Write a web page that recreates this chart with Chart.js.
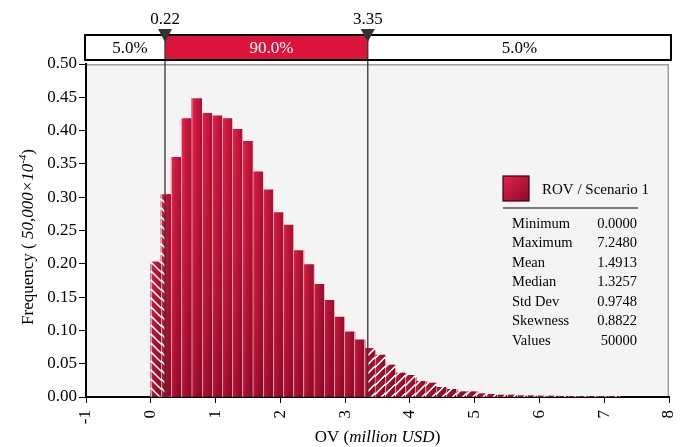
<!DOCTYPE html>
<html>
<head>
<meta charset="utf-8">
<script src="https://cdn.jsdelivr.net/npm/chart.js@4/dist/chart.umd.min.js"></script>
<style>
html,body{margin:0;padding:0;background:#fff;}
canvas{display:block;}
</style>
</head>
<body>
<canvas id="c" width="690" height="447"></canvas>
<script>
// ---------- data ----------
const binCenters = [0.079, 0.236, 0.394, 0.551, 0.709, 0.867, 1.024, 1.182, 1.339, 1.497,
  1.654, 1.812, 1.970, 2.127, 2.285, 2.442, 2.600, 2.757, 2.915, 3.073,
  3.230, 3.388, 3.545, 3.703, 3.860, 4.018, 4.175, 4.333, 4.491, 4.648,
  4.806, 4.963, 5.121, 5.278, 5.436, 5.594, 5.751, 5.909, 6.066, 6.224,
  6.381, 6.539, 6.697, 6.854, 7.012, 7.169];
const frequencies = [0.203, 0.304, 0.360, 0.418, 0.448, 0.426, 0.422, 0.418, 0.402, 0.384,
  0.338, 0.311, 0.277, 0.258, 0.220, 0.199, 0.169, 0.145, 0.120, 0.098,
  0.086, 0.073, 0.063, 0.048, 0.036, 0.0325, 0.0235, 0.021, 0.0145, 0.0115,
  0.008, 0.008, 0.005, 0.004, 0.003, 0.003, 0.002, 0.002, 0.0015, 0.0015,
  0.001, 0.001, 0.001, 0.001, 0.0008, 0.0005];
const cutoffs = [0.22, 3.35];
const cutoffLabels = ['0.22', '3.35'];
const bandShares = ['5.0%', '90.0%', '5.0%'];
const seriesName = 'ROV / Scenario 1';
const statNames = ['Minimum', 'Maximum', 'Mean', 'Median', 'Std Dev', 'Skewness', 'Values'];
const statValues = ['0.0000', '7.2480', '1.4913', '1.3257', '0.9748', '0.8822', '50000'];
const xRange = [-1, 8];
const yRange = [0, 0.5];
const xTitleParts = [['OV (', false], ['million USD', true], [')', false]];
const yTitleParts = [['Frequency ( ', false, false], ['50,000\u00D710', true, false], ['-4', true, true], [')', false, false]];

// ---------- helpers ----------
const FONT = "'Liberation Serif', 'Times New Roman', serif";
const CRIMSON = '#dc143c';
const halfGap = (binCenters[1] - binCenters[0]) / 2;

const coreData = binCenters.map((x, i) => ({
  x, y: (x + halfGap > cutoffs[0] && x - halfGap < cutoffs[1]) ? frequencies[i] : null }));
const tailData = binCenters.map((x, i) => ({
  x, y: (x - halfGap < cutoffs[0] || x + halfGap > cutoffs[1]) ? frequencies[i] : null }));

const patternCache = {};
function barFill(chart, kind) {
  const a = chart.chartArea, xs = chart.scales && chart.scales.x;
  if (!a || !xs || !isFinite(a.top)) return '#c8123a';
  const p0 = xs.getPixelForValue(binCenters[0]);
  const p1 = xs.getPixelForValue(binCenters[1]);
  const binPx = p1 - p0;
  if (!(binPx > 0)) return '#c8123a';
  const x0 = p0 - binPx / 2;
  const key = [kind, binPx.toFixed(3), x0.toFixed(2), a.top, a.bottom].join('|');
  if (patternCache[key]) return patternCache[key];
  const TW = 64, H = Math.ceil(a.bottom - a.top) + 4;
  const c = document.createElement('canvas');
  c.width = TW; c.height = H;
  const g = c.getContext('2d');
  const s = TW / binPx;
  const lg = g.createLinearGradient(0, 0, TW, 0);
  lg.addColorStop(0, '#e62b52');
  lg.addColorStop(0.3, '#d6173f');
  lg.addColorStop(1, '#a30d2e');
  g.fillStyle = lg; g.fillRect(0, 0, TW, H);
  const vg = g.createLinearGradient(0, 0, 0, H);
  vg.addColorStop(0, 'rgba(255,70,100,0.10)');
  vg.addColorStop(1, 'rgba(50,0,10,0.28)');
  g.fillStyle = vg; g.fillRect(0, 0, TW, H);
  g.fillStyle = 'rgba(255,185,200,0.75)';
  g.fillRect(0, 0, s * 1, H);
  if (kind !== 'solid') {
    g.save();
    g.scale(s, 1);
    g.strokeStyle = '#ffffff';
    g.lineWidth = 1.5;
    const P = 9;
    g.beginPath();
    for (let v = -binPx - 2 * P; v < H + binPx + 2 * P; v += P) {
      if (kind === 'left') { g.moveTo(-1, v); g.lineTo(binPx + 1, v + binPx + 2); }
      else { g.moveTo(-1, v); g.lineTo(binPx + 1, v - binPx - 2); }
    }
    g.stroke();
    g.restore();
  }
  const pat = chart.ctx.createPattern(c, 'repeat');
  pat.setTransform(new DOMMatrix([1 / s, 0, 0, 1, x0, a.top]));
  patternCache[key] = pat;
  return pat;
}

function drawParts(ctx, parts, size, cx, cy) {
  // parts: [text, italic, superscript]
  const fontOf = (it, sup) => (it ? 'italic ' : '') + (sup ? Math.round(size * 0.62) : size) + 'px ' + FONT;
  let total = 0;
  const widths = parts.map(p => { ctx.font = fontOf(p[1], p[2]); const w = ctx.measureText(p[0]).width; total += w; return w; });
  let x = cx - total / 2;
  ctx.textAlign = 'left';
  ctx.textBaseline = 'alphabetic';
  parts.forEach((p, i) => {
    ctx.font = fontOf(p[1], p[2]);
    ctx.fillText(p[0], x, cy + (p[2] ? -size * 0.42 : 0));
    x += widths[i];
  });
}

const decorPlugin = {
  id: 'decor',
  beforeDraw(chart) {
    const { ctx, chartArea: a } = chart;
    ctx.save();
    ctx.fillStyle = '#ffffff';
    ctx.fillRect(0, 0, chart.width, chart.height);
    ctx.fillStyle = '#f4f4f4';
    ctx.fillRect(a.left, a.top, a.right - a.left, a.bottom - a.top);
    ctx.strokeStyle = '#a0a0a0';
    ctx.lineWidth = 1.5;
    ctx.beginPath();
    ctx.moveTo(a.left, a.top + 0.75);
    ctx.lineTo(a.right - 0.75, a.top + 0.75);
    ctx.lineTo(a.right - 0.75, a.bottom);
    ctx.stroke();
    ctx.restore();
  },
  beforeDatasetDraw(chart, args) {
    if (chart.data.datasets[args.index].label !== 'core') return;
    const { ctx, chartArea: a, scales: { x } } = chart;
    const l = x.getPixelForValue(cutoffs[0]), r = x.getPixelForValue(cutoffs[1]);
    ctx.save();
    ctx.beginPath();
    ctx.rect(l, a.top, r - l, a.bottom - a.top);
    ctx.clip();
  },
  afterDatasetDraw(chart, args) {
    if (chart.data.datasets[args.index].label !== 'core') return;
    chart.ctx.restore();
  },
  afterDraw(chart) {
    const { ctx, chartArea: a, scales: { x } } = chart;
    const cx = cutoffs.map(v => x.getPixelForValue(v));
    const bandTop = 35, bandBot = 60;
    ctx.save();
    // cutoff lines
    ctx.strokeStyle = '#333333';
    ctx.lineWidth = 1.3;
    cx.forEach(px => {
      ctx.beginPath(); ctx.moveTo(px, bandBot); ctx.lineTo(px, a.bottom); ctx.stroke();
    });
    // band
    const bl = a.left - 1, br = a.right + 2;
    ctx.fillStyle = '#ffffff';
    ctx.fillRect(bl, bandTop, br - bl, bandBot - bandTop);
    ctx.fillStyle = CRIMSON;
    ctx.fillRect(cx[0], bandTop, cx[1] - cx[0], bandBot - bandTop);
    ctx.strokeStyle = '#333333'; ctx.lineWidth = 1.3;
    cx.forEach(px => { ctx.beginPath(); ctx.moveTo(px, bandTop); ctx.lineTo(px, bandBot); ctx.stroke(); });
    ctx.strokeStyle = '#000000'; ctx.lineWidth = 2;
    ctx.strokeRect(bl, bandTop, br - bl, bandBot - bandTop);
    const segs = [[bl, cx[0]], [cx[0], cx[1]], [cx[1], br]];
    ctx.font = '17px ' + FONT;
    ctx.textAlign = 'center';
    ctx.textBaseline = 'middle';
    segs.forEach((sg, i) => {
      ctx.fillStyle = i === 1 ? '#ffffff' : '#000000';
      ctx.fillText(bandShares[i], (sg[0] + sg[1]) / 2 + (i < 2 ? 5 : 0), (bandTop + bandBot) / 2 + 1);
    });
    // triangles and labels
    cx.forEach((px, i) => {
      ctx.fillStyle = '#333333';
      ctx.beginPath();
      ctx.moveTo(px - 7, 29); ctx.lineTo(px + 7, 29); ctx.lineTo(px, 42); ctx.closePath();
      ctx.fill();
      ctx.fillStyle = '#000000';
      ctx.font = '17px ' + FONT;
      ctx.textAlign = 'center';
      ctx.textBaseline = 'alphabetic';
      ctx.fillText(cutoffLabels[i], px, 24);
    });
    // legend box
    const lx = a.right - 166, ly = a.top + 112;
    const sq = ctx.createLinearGradient(lx, ly, lx + 26, ly + 25);
    sq.addColorStop(0, '#e3244a'); sq.addColorStop(1, '#8e0a27');
    ctx.fillStyle = sq;
    ctx.fillRect(lx, ly, 26, 25);
    ctx.strokeStyle = '#3a0010'; ctx.lineWidth = 1.2;
    ctx.strokeRect(lx, ly, 26, 25);
    ctx.fillStyle = '#000000';
    ctx.font = '15px ' + FONT;
    ctx.textAlign = 'left'; ctx.textBaseline = 'middle';
    ctx.fillText(seriesName, lx + 39, ly + 14);
    ctx.strokeStyle = '#7a7a7a'; ctx.lineWidth = 2;
    ctx.beginPath(); ctx.moveTo(lx, ly + 32); ctx.lineTo(lx + 135, ly + 32); ctx.stroke();
    ctx.font = '14.5px ' + FONT;
    statNames.forEach((nm, i) => {
      const yy = ly + 48 + i * 19.5;
      ctx.textAlign = 'left';
      ctx.fillText(nm, lx + 9, yy);
      ctx.textAlign = 'right';
      ctx.fillText(statValues[i], lx + 134, yy);
    });
    // axis titles
    ctx.fillStyle = '#000000';
    drawParts(ctx, xTitleParts.map(p => [p[0], p[1], false]), 17, (a.left + a.right) / 2, 442);
    ctx.save();
    ctx.translate(33, 237);
    ctx.rotate(-Math.PI / 2);
    drawParts(ctx, yTitleParts, 17, 0, 0);
    ctx.restore();
    ctx.restore();
  }
};

const tickFont = { family: FONT, size: 17 };

new Chart(document.getElementById('c'), {
  type: 'bar',
  data: {
    datasets: [
      { label: 'core', data: coreData, order: 0, grouped: false,
        barPercentage: 1, categoryPercentage: 1, borderWidth: 0,
        backgroundColor: ctx => barFill(ctx.chart, 'solid') },
      { label: 'tail', data: tailData, order: 1, grouped: false,
        barPercentage: 1, categoryPercentage: 1, borderWidth: 0,
        backgroundColor: ctx => barFill(ctx.chart, (ctx.raw && ctx.raw.x < 1.5) ? 'left' : 'right') }
    ]
  },
  options: {
    responsive: false,
    animation: false,
    events: [],
    layout: { padding: { top: 64, right: 21, left: 0, bottom: 0 } },
    plugins: { legend: { display: false }, tooltip: { enabled: false } },
    scales: {
      x: {
        type: 'linear', min: xRange[0], max: xRange[1], offset: false, z: 1,
        afterFit: s => { s.height = 50; s.paddingRight = 0; s.paddingLeft = 0; },
        ticks: { stepSize: 1, minRotation: 90, maxRotation: 90, autoSkip: false,
          font: tickFont, color: '#000', padding: 7, callback: v => String(v) },
        grid: { offset: false, drawOnChartArea: false, drawTicks: true, tickLength: 6, color: '#000', tickColor: '#000' },
        border: { display: true, color: '#000', width: 2 }
      },
      y: {
        min: yRange[0], max: yRange[1], z: 1,
        afterFit: s => { s.width = 86; s.paddingTop = 0; s.paddingBottom = 0; },
        ticks: { stepSize: 0.05, font: tickFont, color: '#000', padding: 2, callback: v => Number(v).toFixed(2) },
        grid: { drawOnChartArea: false, drawTicks: true, tickLength: 7, color: '#000', tickColor: '#000' },
        border: { display: true, color: '#000', width: 2 }
      }
    }
  },
  plugins: [decorPlugin]
});
</script>
</body>
</html>
